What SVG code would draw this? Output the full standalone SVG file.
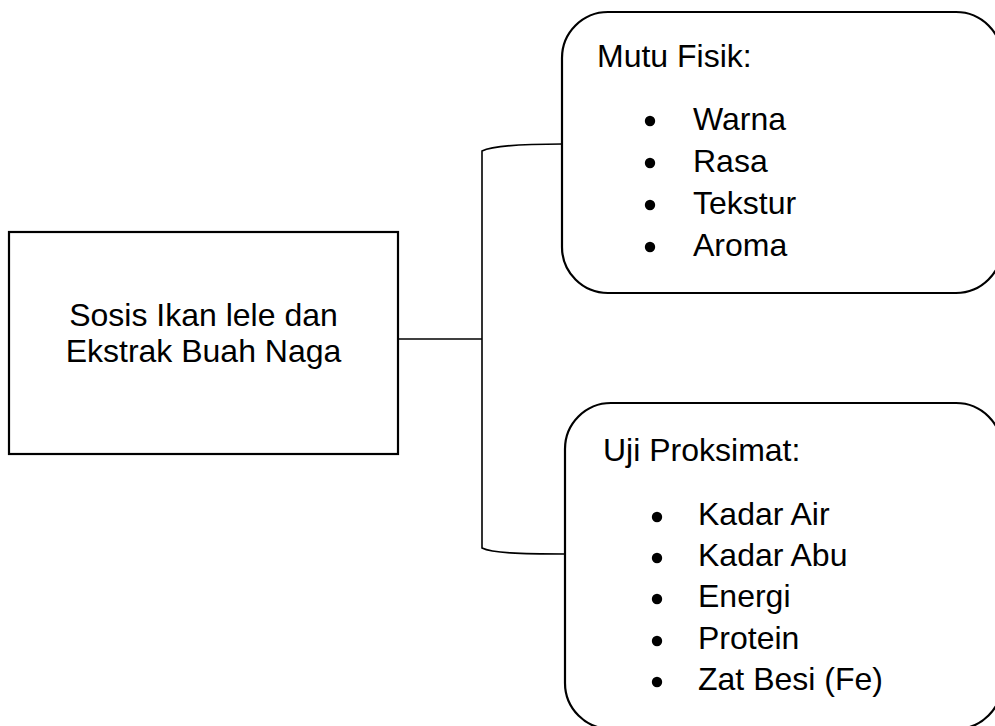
<svg xmlns="http://www.w3.org/2000/svg" width="995" height="726" viewBox="0 0 995 726">
<style>
text{font-family:"Liberation Sans",Arial,sans-serif;font-size:32px;fill:#000}
.box{fill:#fff;stroke:#000;stroke-width:2.2}
.conn{fill:none;stroke:#000;stroke-width:1.6}
.b{fill:#000}
</style>
<rect width="995" height="726" fill="#fff"/>
<g id="connectors">
<path class="conn" d="M398,339 H482"/>
<path class="conn" d="M562,144 C520,144 492,146 482,151 V548 C492,553 520,554 565,554"/>
</g>
<g id="node-main">
<rect class="box" x="9" y="232" width="389" height="222"/>
<text x="203.5" y="326" text-anchor="middle">Sosis Ikan lele dan</text>
<text x="203.5" y="362" text-anchor="middle">Ekstrak Buah Naga</text>
</g>
<g id="node-mutu">
<rect class="box" x="562" y="12" width="440" height="281" rx="46" ry="46"/>
<text x="597" y="67">Mutu Fisik:</text>
<circle class="b" cx="650" cy="121" r="5.2"/>
<circle class="b" cx="650" cy="163" r="5.2"/>
<circle class="b" cx="650" cy="205" r="5.2"/>
<circle class="b" cx="650" cy="247" r="5.2"/>
<text x="693" y="130">Warna</text>
<text x="693" y="172">Rasa</text>
<text x="693" y="214">Tekstur</text>
<text x="693" y="256">Aroma</text>
</g>
<g id="node-uji">
<rect class="box" x="565" y="403" width="437" height="326" rx="46" ry="46"/>
<text x="603" y="461">Uji Proksimat:</text>
<circle class="b" cx="657" cy="517" r="5.2"/>
<circle class="b" cx="657" cy="558" r="5.2"/>
<circle class="b" cx="657" cy="599" r="5.2"/>
<circle class="b" cx="657" cy="641" r="5.2"/>
<circle class="b" cx="657" cy="682" r="5.2"/>
<text x="698" y="525">Kadar Air</text>
<text x="698" y="566">Kadar Abu</text>
<text x="698" y="607">Energi</text>
<text x="698" y="649">Protein</text>
<text x="698" y="690">Zat Besi (Fe)</text>
</g>
</svg>
